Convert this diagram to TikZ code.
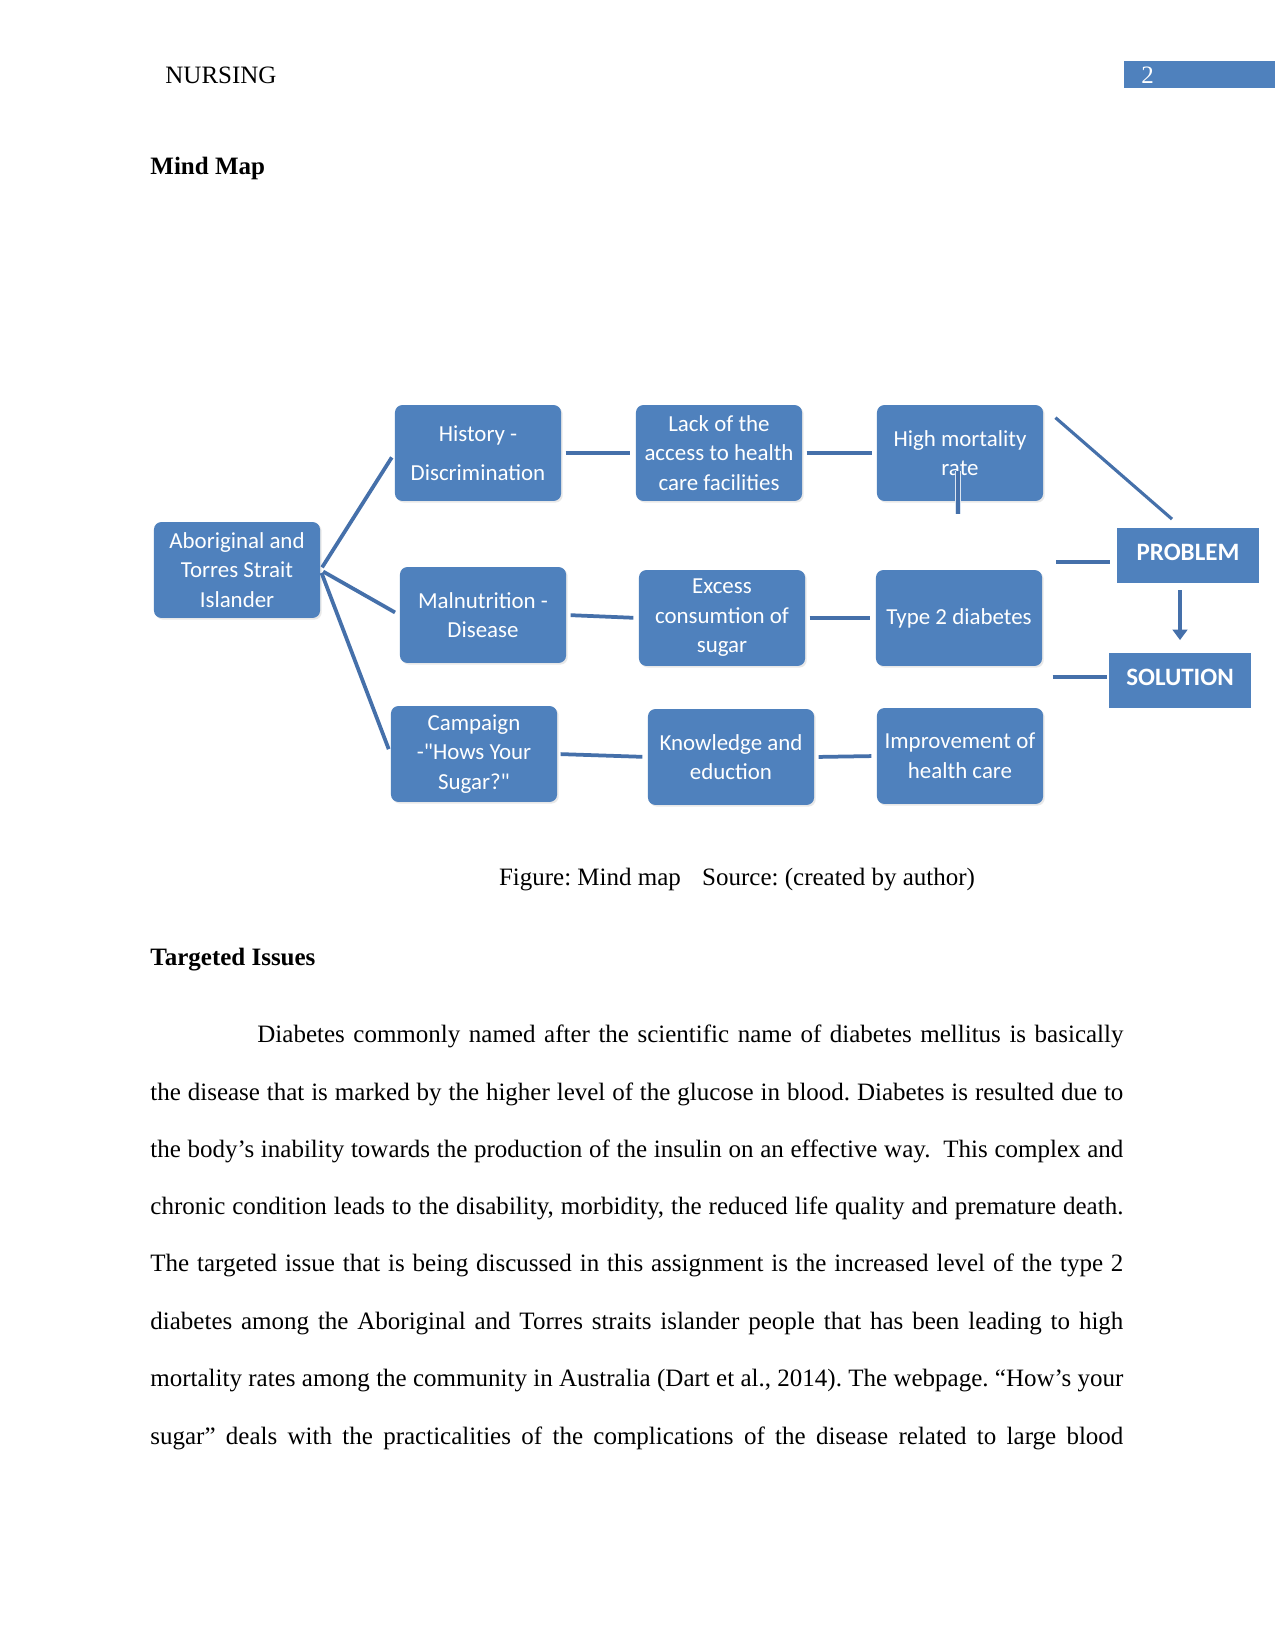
\documentclass[tikz,border=0pt]{standalone}
\usepackage{fontspec}
\setmainfont{Liberation Serif}
\newfontfamily\boxfont{Carlito}
\usetikzlibrary{calc,arrows.meta,shadows}
\definecolor{boxblue}{HTML}{4F81BD}
\definecolor{lineblue}{HTML}{4570AA}
\frenchspacing
\begin{document}
\begin{tikzpicture}[x=0.48pt,y=-0.48pt,
  mbox/.style={fill=boxblue, rounded corners=3.5pt, minimum width=79.7pt, minimum height=46pt,
    inner sep=0pt, align=center, text=white, font=\boxfont\fontsize{11}{14.2}\selectfont,
    drop shadow={opacity=0.18,shadow xshift=0.8pt,shadow yshift=-0.8pt}},
  tagbox/.style={fill=boxblue, minimum width=67.7pt, minimum height=26.4pt, inner sep=0pt,
    text depth=3pt, text=white, font=\boxfont\bfseries\fontsize{12}{14}\selectfont},
  link/.style={draw=lineblue, line width=1.8pt},
  thin link/.style={draw=lineblue, line width=1.5pt},
  bodyline/.style={anchor=base west, inner sep=0pt, font=\fontsize{12}{14}\selectfont},
  heading/.style={anchor=base west, inner sep=0pt, font=\bfseries\fontsize{12}{14}\selectfont}
]
\useasboundingbox[fill=white] (0,0) rectangle (1275,1651);

% header
\node[bodyline] (hdr) at (165,84) {NURSING};
\fill[boxblue] (1124,61) rectangle (1275,88);
\node[bodyline, text=white] (pg) at (1141,84) {2};
\node[heading] (mm) at (150,175) {Mind Map};

% mind map boxes
\node[mbox] (abo)  at (237,570) {Aboriginal and\\Torres Strait\\Islander};
\node[mbox] (hist) at (478,453) {History -\\[4.5pt]Discrimination};
\node[mbox] (lack) at (719,453) {Lack of the\\access to health\\care facilities};
\node[mbox] (high) at (960,453) {High mortality\\rate};
\node[mbox] (maln) at (483,615) {Malnutrition -\\Disease};
\node[mbox] (exc)  at (722,618) {Excess\\consumtion of\\sugar};
\node[mbox] (t2)   at (959,618) {Type 2 diabetes};
\node[mbox] (camp) at (474,754) {Campaign\\-"Hows Your\\Sugar?"};
\node[mbox] (know) at (731,757) {Knowledge and\\eduction};
\node[mbox] (impr) at (960,756) {Improvement of\\health care};
\node[tagbox] (prob) at (1188,555) {PROBLEM};
\node[tagbox, minimum width=68.2pt] (sol) at (1180,680) {SOLUTION};

% connectors
\draw[link, shorten <=1.5pt, shorten >=2.5pt] (abo.east) -- (hist.west);
\draw[link, shorten <=1.5pt, shorten >=2.5pt] (abo.east) -- (maln.west);
\draw[link, shorten <=1.5pt, shorten >=2.5pt] (abo.east) -- (camp.west);
\draw[link, shorten <=2pt, shorten >=2.5pt] (hist.east) -- (lack.west);
\draw[link, shorten <=2pt, shorten >=2pt] (lack.east) -- (high.west);
\draw[link, shorten <=2pt, shorten >=2.5pt] (maln.east) -- (exc.west);
\draw[link, shorten <=2pt, shorten >=2.5pt] (exc.east) -- (t2.west);
\draw[link, shorten <=1.5pt, shorten >=2.5pt] (camp.east) -- (know.west);
\draw[link, shorten <=2pt, shorten >=2.5pt] (know.east) -- (impr.west);
\draw[white!80!boxblue, line width=2.6pt] ($(high.center)+(-2,18)$) -- ($(high.south)+(-2,13)$);
\draw[thin link] ($(high.center)+(-2,18)$) -- ($(high.south)+(-2,13)$);
\draw[thin link] ($(high.north east)+(12,13)$) -- ($(prob.north)+(-16,-8)$);
\draw[link] ($(prob.west)+(-61,7)$) -- ($(prob.west)+(-7,7)$);
\draw[link] ($(sol.west)+(-56,-3)$) -- ($(sol.west)+(-2,-3)$);
\draw[thin link, -{Triangle[width=7pt,length=5pt]}] ($(sol.north)+(0,-62)$) -- ($(sol.north)+(0,-12)$);

% caption and text
\node[bodyline, anchor=base] (cap) at (737,885) {Figure: Mind map\hspace{0.6em} Source: (created by author)};
\node[heading] (ti) at (150,965) {Targeted Issues};

\node[bodyline] (b1) at (257,1042) {\makebox[415.7pt][s]{Diabetes commonly named after the scientific name of diabetes mellitus is basically}};
\node[bodyline] (b2) at (150,1100) {\makebox[467pt][s]{the disease that is marked by the higher level of the glucose in blood. Diabetes is resulted due to}};
\node[bodyline] (b3) at (150,1157) {\makebox[467pt][s]{the body’s inability towards the production of the insulin on an effective way.\hspace{0.25em} This complex and}};
\node[bodyline] (b4) at (150,1214) {\makebox[467pt][s]{chronic condition leads to the disability, morbidity, the reduced life quality and premature death.}};
\node[bodyline] (b5) at (150,1271) {\makebox[467pt][s]{The targeted issue that is being discussed in this assignment is the increased level of the type 2}};
\node[bodyline] (b6) at (150,1329) {\makebox[467pt][s]{diabetes among the Aboriginal and Torres straits islander people that has been leading to high}};
\node[bodyline] (b7) at (150,1386) {\makebox[467pt][s]{mortality rates among the community in Australia (Dart et al., 2014). The webpage. “How’s your}};
\node[bodyline] (b8) at (150,1444) {\makebox[467pt][s]{sugar” deals with the practicalities of the complications of the disease related to large blood}};
\end{tikzpicture}
\end{document}
